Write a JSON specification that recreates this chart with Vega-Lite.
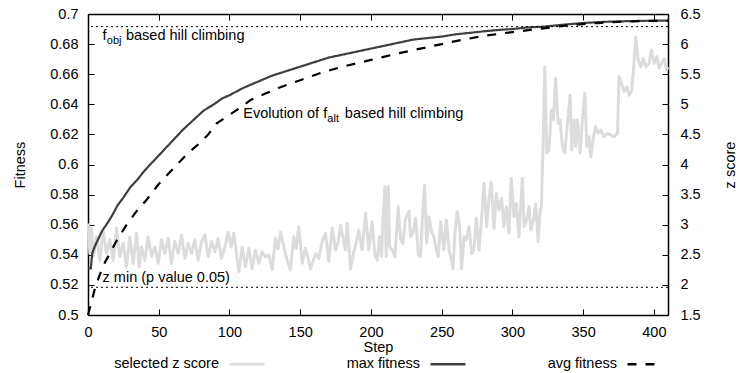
{
  "$schema": "https://vega.github.io/schema/vega-lite/v6.json",
  "width": 580,
  "height": 301,
  "autosize": {"type": "none"},
  "padding": {"left": 88, "top": 14, "right": 81, "bottom": 58},
  "config": {
    "font": "Liberation Sans",
    "view": {"stroke": null},
    "axis": {
      "domainColor": "#000000",
      "domainWidth": 1.5,
      "tickColor": "#000000",
      "tickWidth": 1,
      "tickSize": -6,
      "labelFont": "Liberation Sans",
      "labelFontSize": 14.5,
      "labelColor": "#000000",
      "labelPadding": 16,
      "labelFlush": false,
      "labelOverlap": false,
      "titleFont": "Liberation Sans",
      "titleFontSize": 14.5,
      "titleFontWeight": "normal",
      "titleColor": "#000000",
      "grid": false
    },
    "legend": {
      "orient": "none",
      "legendX": 140,
      "legendY": 331,
      "direction": "horizontal",
      "columns": 3,
      "padding": 0,
      "symbolType": "stroke",
      "symbolSize": 1225,
      "symbolStrokeWidth": 2.5,
      "labelAlign": "right",
      "labelOffset": -47,
      "columnPadding": 76,
      "labelFont": "Liberation Sans",
      "labelFontSize": 14.5,
      "labelColor": "#000000"
    }
  },
  "datasets": {
    "zscore": [
      {"step": 0.1, "z": 3.02, "series": "selected z score"},
      {"step": 1.3, "z": 2.52, "series": "selected z score"},
      {"step": 2.5, "z": 2.94, "series": "selected z score"},
      {"step": 3.7, "z": 2.47, "series": "selected z score"},
      {"step": 6, "z": 2.80, "series": "selected z score"},
      {"step": 8.4, "z": 2.41, "series": "selected z score"},
      {"step": 10.7, "z": 2.91, "series": "selected z score"},
      {"step": 13.1, "z": 2.52, "series": "selected z score"},
      {"step": 15.4, "z": 2.75, "series": "selected z score"},
      {"step": 17.8, "z": 2.41, "series": "selected z score"},
      {"step": 20.1, "z": 2.94, "series": "selected z score"},
      {"step": 22.5, "z": 2.47, "series": "selected z score"},
      {"step": 24.9, "z": 2.69, "series": "selected z score"},
      {"step": 27.2, "z": 2.30, "series": "selected z score"},
      {"step": 29.6, "z": 2.80, "series": "selected z score"},
      {"step": 31.9, "z": 2.36, "series": "selected z score"},
      {"step": 34.3, "z": 2.86, "series": "selected z score"},
      {"step": 36.2, "z": 2.30, "series": "selected z score"},
      {"step": 37.8, "z": 2.63, "series": "selected z score"},
      {"step": 40.2, "z": 2.41, "series": "selected z score"},
      {"step": 42.5, "z": 2.80, "series": "selected z score"},
      {"step": 44.9, "z": 2.47, "series": "selected z score"},
      {"step": 47.3, "z": 2.63, "series": "selected z score"},
      {"step": 49.6, "z": 2.36, "series": "selected z score"},
      {"step": 52, "z": 2.75, "series": "selected z score"},
      {"step": 54.3, "z": 2.52, "series": "selected z score"},
      {"step": 56.7, "z": 2.77, "series": "selected z score"},
      {"step": 59, "z": 2.36, "series": "selected z score"},
      {"step": 61.4, "z": 2.72, "series": "selected z score"},
      {"step": 63.8, "z": 2.52, "series": "selected z score"},
      {"step": 66.1, "z": 2.83, "series": "selected z score"},
      {"step": 68.5, "z": 2.44, "series": "selected z score"},
      {"step": 70.8, "z": 2.69, "series": "selected z score"},
      {"step": 73.2, "z": 2.52, "series": "selected z score"},
      {"step": 75.5, "z": 2.75, "series": "selected z score"},
      {"step": 77.9, "z": 2.41, "series": "selected z score"},
      {"step": 80.3, "z": 2.72, "series": "selected z score"},
      {"step": 82.6, "z": 2.83, "series": "selected z score"},
      {"step": 85, "z": 2.47, "series": "selected z score"},
      {"step": 87.3, "z": 2.72, "series": "selected z score"},
      {"step": 89.7, "z": 2.55, "series": "selected z score"},
      {"step": 92, "z": 2.77, "series": "selected z score"},
      {"step": 94.4, "z": 2.44, "series": "selected z score"},
      {"step": 96.8, "z": 2.63, "series": "selected z score"},
      {"step": 99.1, "z": 2.88, "series": "selected z score"},
      {"step": 101.2, "z": 2.63, "series": "selected z score"},
      {"step": 103.1, "z": 2.86, "series": "selected z score"},
      {"step": 106.6, "z": 2.22, "series": "selected z score"},
      {"step": 109, "z": 2.63, "series": "selected z score"},
      {"step": 111.3, "z": 2.30, "series": "selected z score"},
      {"step": 113.7, "z": 2.61, "series": "selected z score"},
      {"step": 116, "z": 2.27, "series": "selected z score"},
      {"step": 118.4, "z": 2.58, "series": "selected z score"},
      {"step": 120.7, "z": 2.36, "series": "selected z score"},
      {"step": 123.1, "z": 2.55, "series": "selected z score"},
      {"step": 125.4, "z": 2.47, "series": "selected z score"},
      {"step": 127.8, "z": 2.50, "series": "selected z score"},
      {"step": 130.2, "z": 2.25, "series": "selected z score"},
      {"step": 132.5, "z": 2.78, "series": "selected z score"},
      {"step": 134.3, "z": 2.60, "series": "selected z score"},
      {"step": 136.1, "z": 2.88, "series": "selected z score"},
      {"step": 138.4, "z": 2.63, "series": "selected z score"},
      {"step": 140.8, "z": 2.41, "series": "selected z score"},
      {"step": 143.1, "z": 2.25, "series": "selected z score"},
      {"step": 145.5, "z": 2.80, "series": "selected z score"},
      {"step": 147.2, "z": 2.60, "series": "selected z score"},
      {"step": 149, "z": 2.97, "series": "selected z score"},
      {"step": 151.4, "z": 2.36, "series": "selected z score"},
      {"step": 153.7, "z": 2.61, "series": "selected z score"},
      {"step": 155.5, "z": 2.45, "series": "selected z score"},
      {"step": 157.3, "z": 2.27, "series": "selected z score"},
      {"step": 160.8, "z": 2.52, "series": "selected z score"},
      {"step": 163.2, "z": 2.44, "series": "selected z score"},
      {"step": 165.5, "z": 2.72, "series": "selected z score"},
      {"step": 167.9, "z": 2.86, "series": "selected z score"},
      {"step": 170.2, "z": 2.39, "series": "selected z score"},
      {"step": 172.6, "z": 2.94, "series": "selected z score"},
      {"step": 175, "z": 2.58, "series": "selected z score"},
      {"step": 176.8, "z": 2.70, "series": "selected z score"},
      {"step": 178.5, "z": 2.99, "series": "selected z score"},
      {"step": 182, "z": 2.58, "series": "selected z score"},
      {"step": 183.2, "z": 3.02, "series": "selected z score"},
      {"step": 185.6, "z": 2.27, "series": "selected z score"},
      {"step": 187.9, "z": 2.55, "series": "selected z score"},
      {"step": 189.6, "z": 2.70, "series": "selected z score"},
      {"step": 191.4, "z": 2.91, "series": "selected z score"},
      {"step": 193.8, "z": 2.58, "series": "selected z score"},
      {"step": 196.2, "z": 3.19, "series": "selected z score"},
      {"step": 198.5, "z": 2.58, "series": "selected z score"},
      {"step": 200.9, "z": 3.05, "series": "selected z score"},
      {"step": 202.8, "z": 2.50, "series": "selected z score"},
      {"step": 204.5, "z": 2.41, "series": "selected z score"},
      {"step": 206.1, "z": 2.80, "series": "selected z score"},
      {"step": 207.5, "z": 2.47, "series": "selected z score"},
      {"step": 208.5, "z": 3.08, "series": "selected z score"},
      {"step": 209.9, "z": 3.63, "series": "selected z score"},
      {"step": 210.8, "z": 2.47, "series": "selected z score"},
      {"step": 212.3, "z": 3.63, "series": "selected z score"},
      {"step": 213.2, "z": 2.63, "series": "selected z score"},
      {"step": 215.1, "z": 2.58, "series": "selected z score"},
      {"step": 217, "z": 2.47, "series": "selected z score"},
      {"step": 219.3, "z": 3.30, "series": "selected z score"},
      {"step": 221, "z": 2.75, "series": "selected z score"},
      {"step": 222.6, "z": 2.69, "series": "selected z score"},
      {"step": 224.5, "z": 3.11, "series": "selected z score"},
      {"step": 226.9, "z": 3.22, "series": "selected z score"},
      {"step": 228, "z": 2.80, "series": "selected z score"},
      {"step": 229.7, "z": 2.86, "series": "selected z score"},
      {"step": 231.6, "z": 3.11, "series": "selected z score"},
      {"step": 233.5, "z": 2.50, "series": "selected z score"},
      {"step": 235.1, "z": 2.47, "series": "selected z score"},
      {"step": 236.3, "z": 3.08, "series": "selected z score"},
      {"step": 237.9, "z": 3.66, "series": "selected z score"},
      {"step": 239.4, "z": 2.69, "series": "selected z score"},
      {"step": 241, "z": 3.13, "series": "selected z score"},
      {"step": 242.9, "z": 2.88, "series": "selected z score"},
      {"step": 244.5, "z": 2.80, "series": "selected z score"},
      {"step": 246.2, "z": 2.58, "series": "selected z score"},
      {"step": 247.6, "z": 2.47, "series": "selected z score"},
      {"step": 249.3, "z": 3.05, "series": "selected z score"},
      {"step": 251.6, "z": 2.58, "series": "selected z score"},
      {"step": 253.3, "z": 3.08, "series": "selected z score"},
      {"step": 255.2, "z": 2.58, "series": "selected z score"},
      {"step": 257, "z": 2.41, "series": "selected z score"},
      {"step": 258, "z": 2.27, "series": "selected z score"},
      {"step": 259.4, "z": 2.86, "series": "selected z score"},
      {"step": 261, "z": 3.22, "series": "selected z score"},
      {"step": 262.7, "z": 2.97, "series": "selected z score"},
      {"step": 264.1, "z": 2.27, "series": "selected z score"},
      {"step": 265.8, "z": 2.80, "series": "selected z score"},
      {"step": 267.4, "z": 2.75, "series": "selected z score"},
      {"step": 269.3, "z": 2.97, "series": "selected z score"},
      {"step": 271.2, "z": 2.52, "series": "selected z score"},
      {"step": 272.8, "z": 2.58, "series": "selected z score"},
      {"step": 274.5, "z": 3.11, "series": "selected z score"},
      {"step": 276.4, "z": 2.58, "series": "selected z score"},
      {"step": 278.3, "z": 3.13, "series": "selected z score"},
      {"step": 279.9, "z": 3.69, "series": "selected z score"},
      {"step": 281.8, "z": 2.97, "series": "selected z score"},
      {"step": 283.4, "z": 3.41, "series": "selected z score"},
      {"step": 285.1, "z": 3.71, "series": "selected z score"},
      {"step": 287, "z": 2.94, "series": "selected z score"},
      {"step": 288.6, "z": 3.52, "series": "selected z score"},
      {"step": 290.5, "z": 3.24, "series": "selected z score"},
      {"step": 292.4, "z": 3.44, "series": "selected z score"},
      {"step": 294, "z": 2.97, "series": "selected z score"},
      {"step": 295.7, "z": 3.30, "series": "selected z score"},
      {"step": 297.6, "z": 2.86, "series": "selected z score"},
      {"step": 299.2, "z": 3.77, "series": "selected z score"},
      {"step": 301.1, "z": 3.13, "series": "selected z score"},
      {"step": 302.8, "z": 3.35, "series": "selected z score"},
      {"step": 304.6, "z": 2.80, "series": "selected z score"},
      {"step": 307.1, "z": 3.77, "series": "selected z score"},
      {"step": 308.3, "z": 2.97, "series": "selected z score"},
      {"step": 310.1, "z": 3.08, "series": "selected z score"},
      {"step": 311.8, "z": 3.30, "series": "selected z score"},
      {"step": 313, "z": 2.91, "series": "selected z score"},
      {"step": 314.9, "z": 3.08, "series": "selected z score"},
      {"step": 316.5, "z": 3.35, "series": "selected z score"},
      {"step": 318.2, "z": 2.72, "series": "selected z score"},
      {"step": 319.6, "z": 3.24, "series": "selected z score"},
      {"step": 320.5, "z": 3.30, "series": "selected z score"},
      {"step": 321.7, "z": 4.30, "series": "selected z score"},
      {"step": 322.9, "z": 5.62, "series": "selected z score"},
      {"step": 324.3, "z": 4.19, "series": "selected z score"},
      {"step": 325.9, "z": 4.24, "series": "selected z score"},
      {"step": 327.6, "z": 4.90, "series": "selected z score"},
      {"step": 329, "z": 4.74, "series": "selected z score"},
      {"step": 330.6, "z": 5.43, "series": "selected z score"},
      {"step": 332.3, "z": 4.68, "series": "selected z score"},
      {"step": 333.7, "z": 4.74, "series": "selected z score"},
      {"step": 335.4, "z": 4.30, "series": "selected z score"},
      {"step": 337, "z": 4.19, "series": "selected z score"},
      {"step": 338.9, "z": 4.68, "series": "selected z score"},
      {"step": 340.8, "z": 5.15, "series": "selected z score"},
      {"step": 342, "z": 4.24, "series": "selected z score"},
      {"step": 343.6, "z": 4.74, "series": "selected z score"},
      {"step": 344.8, "z": 4.30, "series": "selected z score"},
      {"step": 346, "z": 4.74, "series": "selected z score"},
      {"step": 347.9, "z": 4.19, "series": "selected z score"},
      {"step": 349.5, "z": 4.74, "series": "selected z score"},
      {"step": 351.2, "z": 5.18, "series": "selected z score"},
      {"step": 352.6, "z": 4.30, "series": "selected z score"},
      {"step": 354.2, "z": 4.46, "series": "selected z score"},
      {"step": 355.4, "z": 4.13, "series": "selected z score"},
      {"step": 357.3, "z": 4.46, "series": "selected z score"},
      {"step": 358.9, "z": 4.63, "series": "selected z score"},
      {"step": 360.6, "z": 4.52, "series": "selected z score"},
      {"step": 362.5, "z": 4.57, "series": "selected z score"},
      {"step": 364.8, "z": 4.46, "series": "selected z score"},
      {"step": 367.2, "z": 4.52, "series": "selected z score"},
      {"step": 369.5, "z": 4.49, "series": "selected z score"},
      {"step": 371.9, "z": 4.46, "series": "selected z score"},
      {"step": 374.3, "z": 4.52, "series": "selected z score"},
      {"step": 375.4, "z": 5.46, "series": "selected z score"},
      {"step": 377.1, "z": 5.35, "series": "selected z score"},
      {"step": 379, "z": 5.21, "series": "selected z score"},
      {"step": 380.9, "z": 5.29, "series": "selected z score"},
      {"step": 382.5, "z": 5.15, "series": "selected z score"},
      {"step": 384.2, "z": 5.21, "series": "selected z score"},
      {"step": 385.6, "z": 5.57, "series": "selected z score"},
      {"step": 387.2, "z": 6.12, "series": "selected z score"},
      {"step": 388.9, "z": 5.74, "series": "selected z score"},
      {"step": 390.8, "z": 5.62, "series": "selected z score"},
      {"step": 392.6, "z": 5.76, "series": "selected z score"},
      {"step": 394.3, "z": 5.62, "series": "selected z score"},
      {"step": 396.6, "z": 5.68, "series": "selected z score"},
      {"step": 398.3, "z": 5.90, "series": "selected z score"},
      {"step": 400.2, "z": 5.68, "series": "selected z score"},
      {"step": 402.1, "z": 5.79, "series": "selected z score"},
      {"step": 403.7, "z": 5.60, "series": "selected z score"},
      {"step": 405.4, "z": 5.68, "series": "selected z score"},
      {"step": 407.3, "z": 5.76, "series": "selected z score"},
      {"step": 408.9, "z": 5.57, "series": "selected z score"},
      {"step": 410, "z": 5.62, "series": "selected z score"}
    ],
    "fitness": [
      {"step": 0, "fitness": 0.531, "series": "max fitness"},
      {"step": 2, "fitness": 0.531, "series": "max fitness"},
      {"step": 3, "fitness": 0.541, "series": "max fitness"},
      {"step": 5, "fitness": 0.546, "series": "max fitness"},
      {"step": 7, "fitness": 0.550, "series": "max fitness"},
      {"step": 10, "fitness": 0.556, "series": "max fitness"},
      {"step": 13, "fitness": 0.560, "series": "max fitness"},
      {"step": 17, "fitness": 0.566, "series": "max fitness"},
      {"step": 21, "fitness": 0.573, "series": "max fitness"},
      {"step": 25, "fitness": 0.578, "series": "max fitness"},
      {"step": 30, "fitness": 0.585, "series": "max fitness"},
      {"step": 35, "fitness": 0.590, "series": "max fitness"},
      {"step": 40, "fitness": 0.596, "series": "max fitness"},
      {"step": 45, "fitness": 0.601, "series": "max fitness"},
      {"step": 50, "fitness": 0.606, "series": "max fitness"},
      {"step": 55, "fitness": 0.611, "series": "max fitness"},
      {"step": 60, "fitness": 0.616, "series": "max fitness"},
      {"step": 67, "fitness": 0.623, "series": "max fitness"},
      {"step": 75, "fitness": 0.630, "series": "max fitness"},
      {"step": 82, "fitness": 0.636, "series": "max fitness"},
      {"step": 89, "fitness": 0.640, "series": "max fitness"},
      {"step": 95, "fitness": 0.644, "series": "max fitness"},
      {"step": 100, "fitness": 0.646, "series": "max fitness"},
      {"step": 110, "fitness": 0.651, "series": "max fitness"},
      {"step": 120, "fitness": 0.655, "series": "max fitness"},
      {"step": 130, "fitness": 0.659, "series": "max fitness"},
      {"step": 140, "fitness": 0.662, "series": "max fitness"},
      {"step": 150, "fitness": 0.665, "series": "max fitness"},
      {"step": 160, "fitness": 0.668, "series": "max fitness"},
      {"step": 170, "fitness": 0.671, "series": "max fitness"},
      {"step": 180, "fitness": 0.673, "series": "max fitness"},
      {"step": 190, "fitness": 0.675, "series": "max fitness"},
      {"step": 200, "fitness": 0.677, "series": "max fitness"},
      {"step": 210, "fitness": 0.679, "series": "max fitness"},
      {"step": 220, "fitness": 0.681, "series": "max fitness"},
      {"step": 230, "fitness": 0.683, "series": "max fitness"},
      {"step": 240, "fitness": 0.684, "series": "max fitness"},
      {"step": 250, "fitness": 0.685, "series": "max fitness"},
      {"step": 260, "fitness": 0.6865, "series": "max fitness"},
      {"step": 270, "fitness": 0.6875, "series": "max fitness"},
      {"step": 280, "fitness": 0.6885, "series": "max fitness"},
      {"step": 290, "fitness": 0.6894, "series": "max fitness"},
      {"step": 300, "fitness": 0.690, "series": "max fitness"},
      {"step": 310, "fitness": 0.691, "series": "max fitness"},
      {"step": 322, "fitness": 0.6916, "series": "max fitness"},
      {"step": 335, "fitness": 0.6928, "series": "max fitness"},
      {"step": 350, "fitness": 0.6940, "series": "max fitness"},
      {"step": 365, "fitness": 0.6948, "series": "max fitness"},
      {"step": 380, "fitness": 0.6952, "series": "max fitness"},
      {"step": 395, "fitness": 0.6955, "series": "max fitness"},
      {"step": 410, "fitness": 0.6956, "series": "max fitness"},
      {"step": 0, "fitness": 0.500, "series": "avg fitness"},
      {"step": 2, "fitness": 0.507, "series": "avg fitness"},
      {"step": 5, "fitness": 0.518, "series": "avg fitness"},
      {"step": 8, "fitness": 0.526, "series": "avg fitness"},
      {"step": 12, "fitness": 0.535, "series": "avg fitness"},
      {"step": 16.6, "fitness": 0.543, "series": "avg fitness"},
      {"step": 20, "fitness": 0.549, "series": "avg fitness"},
      {"step": 24, "fitness": 0.555, "series": "avg fitness"},
      {"step": 28, "fitness": 0.561, "series": "avg fitness"},
      {"step": 32, "fitness": 0.566, "series": "avg fitness"},
      {"step": 36, "fitness": 0.571, "series": "avg fitness"},
      {"step": 41, "fitness": 0.576, "series": "avg fitness"},
      {"step": 45, "fitness": 0.581, "series": "avg fitness"},
      {"step": 50, "fitness": 0.587, "series": "avg fitness"},
      {"step": 55, "fitness": 0.592, "series": "avg fitness"},
      {"step": 60, "fitness": 0.597, "series": "avg fitness"},
      {"step": 65, "fitness": 0.602, "series": "avg fitness"},
      {"step": 70, "fitness": 0.607, "series": "avg fitness"},
      {"step": 75, "fitness": 0.611, "series": "avg fitness"},
      {"step": 80, "fitness": 0.615, "series": "avg fitness"},
      {"step": 85, "fitness": 0.620, "series": "avg fitness"},
      {"step": 91, "fitness": 0.6274, "series": "avg fitness"},
      {"step": 100, "fitness": 0.633, "series": "avg fitness"},
      {"step": 108, "fitness": 0.638, "series": "avg fitness"},
      {"step": 115, "fitness": 0.6429, "series": "avg fitness"},
      {"step": 125, "fitness": 0.647, "series": "avg fitness"},
      {"step": 135, "fitness": 0.651, "series": "avg fitness"},
      {"step": 150, "fitness": 0.656, "series": "avg fitness"},
      {"step": 165, "fitness": 0.661, "series": "avg fitness"},
      {"step": 180, "fitness": 0.665, "series": "avg fitness"},
      {"step": 200, "fitness": 0.6695, "series": "avg fitness"},
      {"step": 220, "fitness": 0.674, "series": "avg fitness"},
      {"step": 240, "fitness": 0.678, "series": "avg fitness"},
      {"step": 260, "fitness": 0.682, "series": "avg fitness"},
      {"step": 280, "fitness": 0.6855, "series": "avg fitness"},
      {"step": 300, "fitness": 0.688, "series": "avg fitness"},
      {"step": 322, "fitness": 0.6905, "series": "avg fitness"},
      {"step": 340, "fitness": 0.6925, "series": "avg fitness"},
      {"step": 360, "fitness": 0.694, "series": "avg fitness"},
      {"step": 380, "fitness": 0.695, "series": "avg fitness"},
      {"step": 395, "fitness": 0.6954, "series": "avg fitness"},
      {"step": 410, "fitness": 0.6955, "series": "avg fitness"}
    ]
  },
  "layer": [
    {
      "data": {"name": "zscore"},
      "mark": {"type": "line", "strokeWidth": 3, "strokeJoin": "round"},
      "encoding": {
        "x": {
          "field": "step", "type": "quantitative",
          "scale": {"domain": [0, 410], "nice": false},
          "axis": {"orient": "top", "labels": false, "title": null, "values": [0, 50, 100, 150, 200, 250, 300, 350, 400]}
        },
        "y": {
          "field": "z", "type": "quantitative",
          "scale": {"domain": [1.5, 6.5], "nice": false},
          "axis": {"orient": "right", "title": "z score", "values": [1.5, 2, 2.5, 3, 3.5, 4, 4.5, 5, 5.5, 6, 6.5], "format": "~g", "labelOverlap": false, "labelPadding": 18, "titleAngle": 270, "titleBaseline": "top", "titlePadding": 23}
        },
        "color": {
          "field": "series", "type": "nominal",
          "scale": {"domain": ["selected z score", "max fitness", "avg fitness"], "range": ["#dcdcdc", "#404040", "#000000"]},
          "legend": {"title": null}
        },
        "strokeDash": {
          "field": "series", "type": "nominal",
          "scale": {"domain": ["selected z score", "max fitness", "avg fitness"], "range": [[1, 0], [1, 0], [9, 9]]},
          "legend": {"title": null}
        }
      }
    },
    {
      "encoding": {
        "y": {
          "type": "quantitative",
          "scale": {"domain": [0.5, 0.7], "nice": false},
          "axis": {"orient": "left", "title": "Fitness", "values": [0.5, 0.52, 0.54, 0.56, 0.58, 0.6, 0.62, 0.64, 0.66, 0.68, 0.7], "format": "~g", "labelOverlap": false, "titlePadding": 22}
        }
      },
      "layer": [
        {
          "data": {"name": "fitness"},
          "mark": {"type": "line", "strokeWidth": 2.2},
          "encoding": {
            "x": {
              "field": "step", "type": "quantitative",
              "scale": {"domain": [0, 410], "nice": false},
              "axis": {"orient": "bottom", "title": "Step", "values": [0, 50, 100, 150, 200, 250, 300, 350, 400], "labelOverlap": false, "titlePadding": 2}
            },
            "y": {
              "field": "fitness", "type": "quantitative",
              "scale": {"domain": [0.5, 0.7], "nice": false},
              "axis": {"orient": "left", "title": "Fitness", "values": [0.5, 0.52, 0.54, 0.56, 0.58, 0.6, 0.62, 0.64, 0.66, 0.68, 0.7], "format": "~g", "labelOverlap": false, "titlePadding": 22}
            },
            "color": {
              "field": "series", "type": "nominal",
              "scale": {"domain": ["selected z score", "max fitness", "avg fitness"], "range": ["#dcdcdc", "#404040", "#000000"]},
              "legend": {"title": null}
            },
            "strokeDash": {
              "field": "series", "type": "nominal",
              "scale": {"domain": ["selected z score", "max fitness", "avg fitness"], "range": [[1, 0], [1, 0], [9, 9]]},
              "legend": {"title": null}
            }
          }
        },
        {
          "data": {"values": [{"fitness": 0.6916}, {"fitness": 0.5184}]},
          "mark": {"type": "rule", "color": "#000000", "strokeWidth": 1, "strokeDash": [2, 3]},
          "encoding": {
            "y": {
              "field": "fitness", "type": "quantitative",
              "scale": {"domain": [0.5, 0.7], "nice": false},
              "axis": {"orient": "left", "title": "Fitness", "values": [0.5, 0.52, 0.54, 0.56, 0.58, 0.6, 0.62, 0.64, 0.66, 0.68, 0.7], "format": "~g", "labelOverlap": false, "titlePadding": 22}
            }
          }
        },
        {
          "data": {"values": [
            {"step": 10.3, "fitness": 0.6827, "main": "f", "sub": "obj", "rest": "based hill climbing", "kind": "obj"},
            {"step": 109.8, "fitness": 0.6307, "main": "Evolution of f", "sub": "alt", "rest": "based hill climbing", "kind": "alt"},
            {"step": 10.3, "fitness": 0.5221, "main": "z min (p value 0.05)", "sub": "", "rest": "", "kind": "zmin"}
          ]},
          "layer": [
            {
              "mark": {"type": "text", "align": "left", "baseline": "alphabetic", "fontSize": 14.5, "color": "#000000"},
              "encoding": {"text": {"field": "main"}}
            },
            {
              "transform": [{"filter": "datum.kind == 'obj'"}],
              "mark": {"type": "text", "align": "left", "baseline": "alphabetic", "fontSize": 11, "dx": 4.3, "dy": 3.5, "color": "#000000"},
              "encoding": {"text": {"field": "sub"}}
            },
            {
              "transform": [{"filter": "datum.kind == 'obj'"}],
              "mark": {"type": "text", "align": "left", "baseline": "alphabetic", "fontSize": 14.5, "dx": 23.4, "color": "#000000"},
              "encoding": {"text": {"field": "rest"}}
            },
            {
              "transform": [{"filter": "datum.kind == 'alt'"}],
              "mark": {"type": "text", "align": "left", "baseline": "alphabetic", "fontSize": 11, "dx": 84, "dy": 3.5, "color": "#000000"},
              "encoding": {"text": {"field": "sub"}}
            },
            {
              "transform": [{"filter": "datum.kind == 'alt'"}],
              "mark": {"type": "text", "align": "left", "baseline": "alphabetic", "fontSize": 14.5, "dx": 101.5, "color": "#000000"},
              "encoding": {"text": {"field": "rest"}}
            }
          ],
          "encoding": {
            "x": {"field": "step", "type": "quantitative", "scale": {"domain": [0, 410], "nice": false}, "axis": {"orient": "bottom", "title": "Step", "values": [0, 50, 100, 150, 200, 250, 300, 350, 400], "labelOverlap": false, "titlePadding": 2}},
            "y": {
              "field": "fitness", "type": "quantitative",
              "scale": {"domain": [0.5, 0.7], "nice": false},
              "axis": {"orient": "left", "title": "Fitness", "values": [0.5, 0.52, 0.54, 0.56, 0.58, 0.6, 0.62, 0.64, 0.66, 0.68, 0.7], "format": "~g", "labelOverlap": false, "titlePadding": 22}
            }
          }
        }
      ]
    }
  ],
  "resolve": {"scale": {"y": "independent"}, "axis": {"x": "independent"}}
}
